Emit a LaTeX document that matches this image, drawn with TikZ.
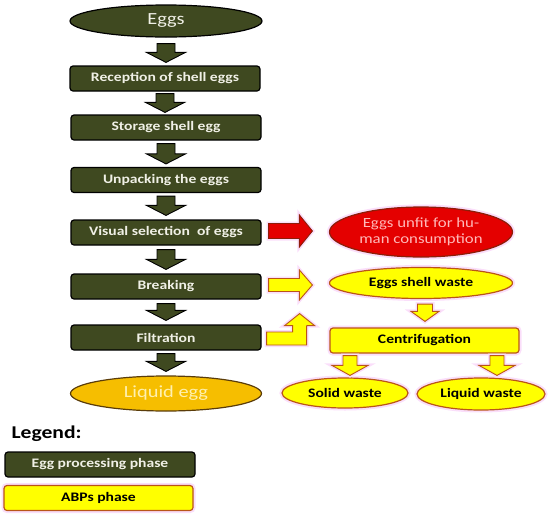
\documentclass[tikz,border=0pt]{standalone}
\usepackage{fontspec}
\setmainfont{Carlito}[FakeStretch=1.2]
\usetikzlibrary{calc,shapes.geometric}
\definecolor{darkol}{RGB}{63,73,32}
\definecolor{ylw}{RGB}{255,255,0}
\definecolor{ylwborder}{RGB}{185,85,25}
\definecolor{redfill}{RGB}{228,0,0}
\definecolor{redborder}{RGB}{140,30,10}
\definecolor{goldfill}{RGB}{246,190,0}
\definecolor{goldborder}{RGB}{90,60,10}
\definecolor{glow}{RGB}{250,222,250}
\definecolor{boxtext}{RGB}{240,240,230}
\newcommand\downblock[5]{%
  \draw[#1] let \p1=#2, \p2=#3 in
    (\x1-#4pt,\y1) -- (\x1+#4pt,\y1) -- (\x1+#4pt,\y2+10pt) -- (\x1+#5pt,\y2+10pt)
    -- (\x1,\y2) -- (\x1-#5pt,\y2+10pt) -- (\x1-#4pt,\y2+10pt) -- cycle;}
\newcommand\rightblock[5]{%
  \draw[#1] let \p1=#2, \p2=#3 in
    (\x1,\y1+#4pt) -- (\x2-13pt,\y1+#4pt) -- (\x2-13pt,\y1+#5pt) -- (\x2,\y1)
    -- (\x2-13pt,\y1-#5pt) -- (\x2-13pt,\y1-#4pt) -- (\x1,\y1-#4pt) -- cycle;}
\begin{document}
\begin{tikzpicture}[x=1pt,y=-1pt,
  txt/.style={font=\bfseries\fontsize{13}{15}\selectfont},
  proc/.style={draw=black, line width=1.2pt, fill=darkol, rounded corners=3pt,
    minimum width=190pt, minimum height=25pt, inner sep=0pt, text=boxtext, txt},
  abp/.style={draw=ylwborder, line width=1.2pt, fill=ylw, rounded corners=3pt,
    preaction={draw=glow, line width=5pt},
    minimum height=25pt, inner sep=0pt, text=black, txt},
  abpell/.style={ellipse, draw=ylwborder, line width=1.2pt, fill=ylw,
    preaction={draw=glow, line width=5pt}, inner sep=0pt, text=black, txt},
  darr/.style={draw=black, line width=0.9pt, fill=darkol},
  yarr/.style={draw=ylwborder, line width=0.9pt, fill=ylw, preaction={draw=glow, line width=4pt}},
  rarr/.style={draw=redborder, line width=0.9pt, fill=redfill, preaction={draw=glow, line width=4pt}},
]
\useasboundingbox (0,0) rectangle (550,515);

% main chain
\node[ellipse, draw=black, line width=1.2pt, fill=darkol, minimum width=192pt,
  minimum height=32pt, inner sep=0pt, text=boxtext, font=\fontsize{17}{19}\selectfont]
  (eggs) at (166,21) {Eggs};
\node[proc] (b1) at (165,78.5) {Reception of shell eggs};
\node[proc] (b2) at (166,127.5) {Storage shell egg};
\node[proc] (b3) at (166,180) {Unpacking the eggs};
\node[proc] (b4) at (166,232.5) {Visual selection\ \ of eggs};
\node[proc] (b5) at (166,286.5) {Breaking};
\node[proc] (b6) at (166,337.5) {Filtration};
\node[ellipse, draw=goldborder, line width=1.2pt, fill=goldfill, minimum width=191pt,
  minimum height=35pt, inner sep=0pt, text={rgb,255:red,255;green,240;blue,175},
  font=\fontsize{17}{19}\selectfont] (liq) at (166,393.5) {Liquid egg};

\downblock{darr}{($(eggs.south)+(0,6)$)}{($(b1.north)+(0,-3)$)}{9}{19.5}
\downblock{darr}{($(b1.south)+(0,2)$)}{($(b2.north)+(0,-2)$)}{9}{19.5}
\downblock{darr}{($(b2.south)+(0,3)$)}{($(b3.north)+(0,-3)$)}{9}{19.5}
\downblock{darr}{($(b3.south)+(0,3)$)}{($(b4.north)+(0,-4)$)}{9}{19.5}
\downblock{darr}{($(b4.south)+(0,4)$)}{($(b5.north)+(0,-4)$)}{9}{19.5}
\downblock{darr}{($(b5.south)+(0,4)$)}{($(b6.north)+(0,-4)$)}{9}{19.5}
\downblock{darr}{($(b6.south)+(0,3)$)}{($(liq.north)+(0,-4)$)}{9}{19.5}

% right branch
\node[ellipse, draw=redborder, line width=1.2pt, fill=redfill,
  preaction={draw=glow, line width=5pt}, minimum width=183pt, minimum height=50pt,
  inner sep=0pt, align=center, text={rgb,255:red,255;green,185;blue,185},
  font=\fontsize{14}{16.5}\selectfont] (unfit) at (421,232) {Eggs unfit for hu-\\man consumption};
\node[abpell, minimum width=183pt, minimum height=31pt] (shell) at (421,283) {Eggs shell waste};
\node[abp, minimum width=189pt] (cen) at (424.5,340.5) {Centrifugation};
\node[abpell, minimum width=126pt, minimum height=30pt] (solid) at (345,393) {Solid waste};
\node[abpell, minimum width=128pt, minimum height=32pt] (lqw) at (481,394) {Liquid waste};

\rightblock{rarr}{($(b4.east)+(7,-1.5)$)}{($(unfit.west)+(-16.5,0)$)}{7.5}{16}
\rightblock{yarr}{($(b5.east)+(7,-1.5)$)}{($(shell.west)+(-16.5,0)$)}{6.5}{15}
\draw[yarr] let \p1=($(b6.east)+(5,1)$), \p2=($(shell.south)+(0,14.5)$) in
  (\x1,\y1-6.5pt) -- (\x1+40pt,\y1-6.5pt) -- (\x1+40pt,\y1+13pt)
  -- (\x1+40pt,\y2-12pt) -- (\x1+48pt,\y2-12pt) -- (\x1+33pt,\y2)
  -- (\x1+18pt,\y2-12pt) -- (\x1+26pt,\y2-12pt) -- (\x1+26pt,\y1+6.5pt)
  -- (\x1,\y1+6.5pt) -- cycle;

\downblock{yarr}{($(shell.south)+(4,5)$)}{($(cen.north)+(2,-6)$)}{7.5}{14}
\downblock{yarr}{($(cen.south)+(-74.5,2)$)}{($(solid.north)+(5,-2)$)}{7}{18}
\downblock{yarr}{($(cen.south)+(72.5,2)$)}{($(lqw.north)+(16,-2)$)}{7}{18}

% legend
\node[font=\bfseries\fontsize{18}{20}\selectfont, anchor=west] (leg) at (8,434) {Legend:};
\node[proc] (l1) at (100,464.5) {Egg processing phase};
\node[abp, minimum width=189pt] (l2) at (98.5,498) {ABPs phase};
\end{tikzpicture}
\end{document}
